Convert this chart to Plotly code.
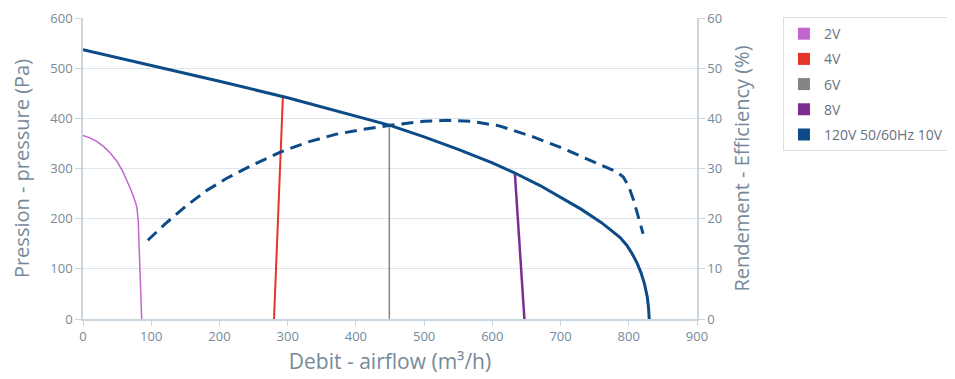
import plotly.graph_objects as go

# ---- data ----
v2_x = [0, 10, 20, 30, 40, 50, 58, 65, 70, 75, 79, 81, 82, 83, 84, 85, 86]
v2_y = [366, 361, 354, 344, 331, 314, 295, 275, 258, 240, 223, 195, 160, 120, 80, 40, 0]

v4_x = [280, 293]
v4_y = [0, 443]

v6_x = [449, 449]
v6_y = [0, 386]

v8_x = [633, 647]
v8_y = [291, 0]

v10_x = [0, 100, 200, 300, 350, 400, 450, 500, 550, 600, 633, 670, 700, 730, 760, 787, 797, 805, 812, 818, 823, 827, 829, 830]
v10_y = [537, 506, 474, 441, 423, 404, 386, 363, 338, 311, 291, 266, 243, 219, 192, 163, 147, 130, 112, 92, 70, 45, 22, 0]

eff_x = [95, 120, 150, 180, 210, 250, 290, 330, 370, 410, 450, 500, 533, 570, 610, 660, 700, 733, 760, 783, 792, 800, 807, 814, 821]
eff_y = [15.7, 18.9, 22.4, 25.5, 28.0, 30.8, 33.3, 35.3, 36.8, 37.8, 38.6, 39.4, 39.6, 39.4, 38.5, 36.3, 34.2, 32.3, 30.7, 29.3, 28.3, 26.4, 23.7, 20.5, 17.0]

series_names = ["2V", "4V", "6V", "8V", "120V 50/60Hz 10V"]
series_colors = ["#c265cf", "#e4352b", "#858585", "#7b2c91", "#0c4a88"]

x_ticks = [0, 100, 200, 300, 400, 500, 600, 700, 800, 900]
y_ticks = [0, 100, 200, 300, 400, 500, 600]
y2_ticks = [0, 10, 20, 30, 40, 50, 60]

fig = go.Figure()

curves = [(v2_x, v2_y, 1.5), (v4_x, v4_y, 2), (v6_x, v6_y, 1.5), (v8_x, v8_y, 2.5), (v10_x, v10_y, 3)]
for (cx, cy, w), col in zip(curves, series_colors):
    fig.add_trace(go.Scatter(x=cx, y=cy, mode="lines", line=dict(color=col, width=w),
                             showlegend=False, hoverinfo="skip"))

fig.add_trace(go.Scatter(x=eff_x, y=eff_y, mode="lines", yaxis="y2",
                         line=dict(color=series_colors[4], width=3, dash="12px,7px"),
                         showlegend=False, hoverinfo="skip"))

for i, (name, col) in enumerate(zip(series_names, series_colors)):
    fig.add_trace(go.Scatter(x=[None], y=[None], mode="markers", name=name, legendgroup=f"g{i}",
                             marker=dict(symbol="square", size=14, color=col)))

axis_col = "#c9d6df"
text_col = "#76899a"
fig.update_layout(
    width=947, height=371,
    margin=dict(l=75, r=258, t=10, b=60, autoexpand=False),
    paper_bgcolor="white", plot_bgcolor="white",
    font=dict(family="Open Sans", color=text_col, size=13),
    xaxis=dict(range=[0, 900], tickvals=x_ticks, showgrid=False, zeroline=False, automargin=False,
               showline=True, linecolor=axis_col, linewidth=1.5, ticks="outside", ticklen=5, tickcolor=axis_col,
               title=dict(text="Debit - airflow (m³/h)", font=dict(size=21, color=text_col), standoff=10),
               tickfont=dict(size=13, color=text_col)),
    yaxis=dict(range=[0, 600], tickvals=y_ticks, showgrid=True, gridcolor="#dde6ee", zeroline=False, automargin=False,
               showline=True, linecolor=axis_col, linewidth=1.5, ticks="outside", ticklen=6, tickcolor=axis_col,
               title=dict(text="Pression - pressure (Pa)", font=dict(size=20, color=text_col), standoff=16),
               tickfont=dict(size=13, color=text_col)),
    yaxis2=dict(range=[0, 60], tickvals=y2_ticks, overlaying="y", side="right", showgrid=False, zeroline=False,
                automargin=False,
                showline=True, linecolor=axis_col, linewidth=1.5, ticks="outside", ticklen=6, tickcolor=axis_col,
                title=dict(text="Rendement - Efficiency (%)", font=dict(size=20, color=text_col), standoff=14),
                tickfont=dict(size=13, color=text_col)),
    legend=dict(x=1.140, y=1.003, xanchor="left", yanchor="top", bordercolor="#d6dfe6", borderwidth=1,
                bgcolor="white", font=dict(size=14, color="#6a7480"), tracegroupgap=4, itemsizing="constant"),
)

fig.write_html("out.html")
